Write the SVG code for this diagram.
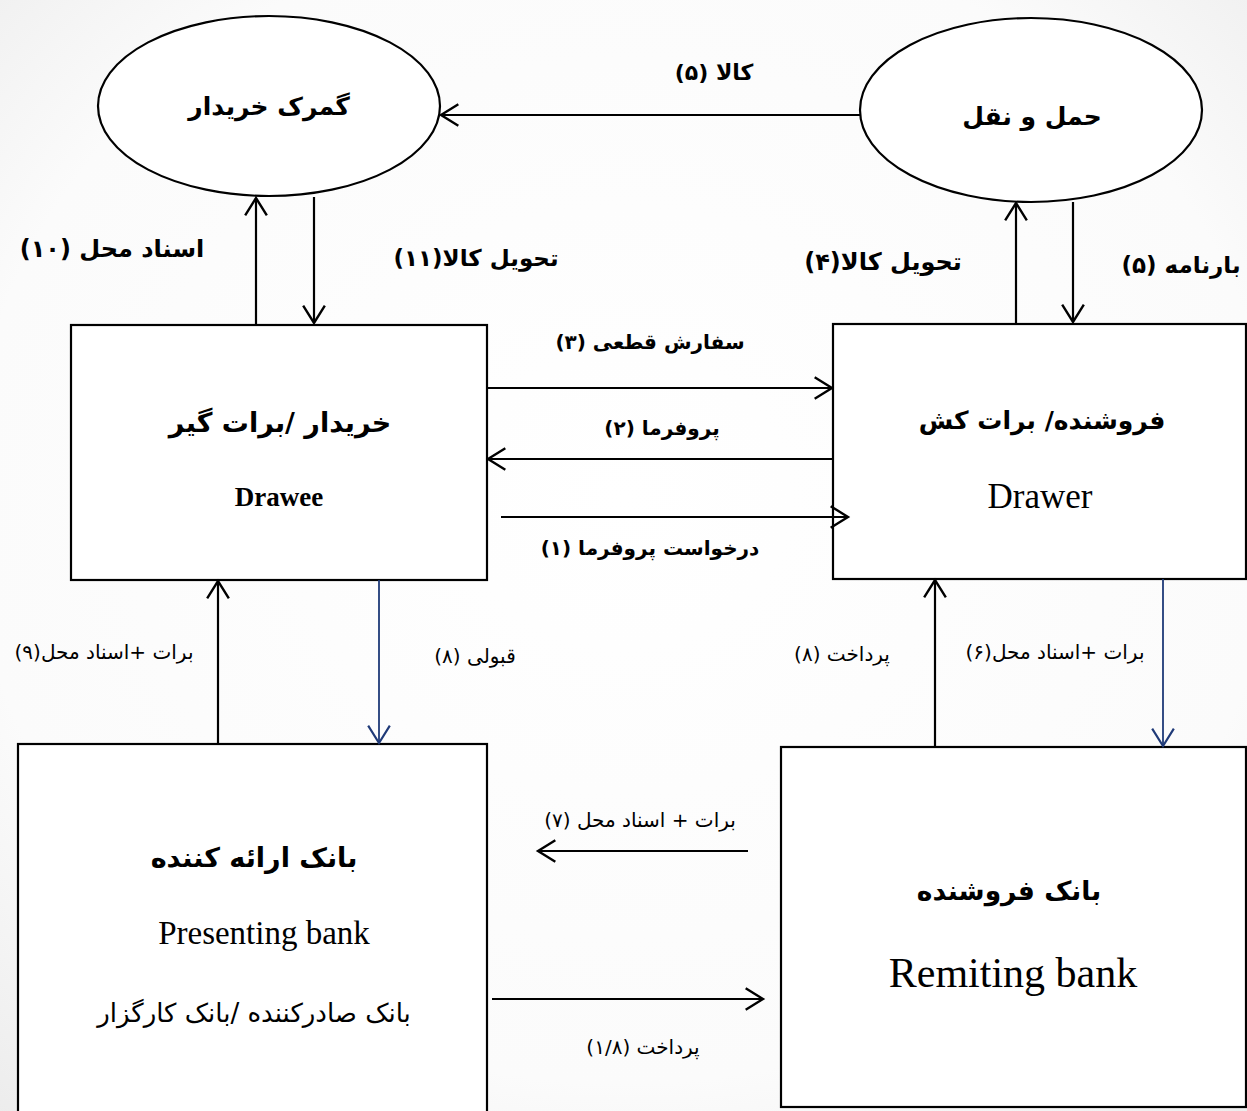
<svg xmlns="http://www.w3.org/2000/svg" width="1247" height="1111" viewBox="0 0 1247 1111">
<defs>
<radialGradient id="bg" cx="0.5" cy="0.45" r="0.75">
<stop offset="0" stop-color="#ffffff"/>
<stop offset="0.7" stop-color="#fbfbfb"/>
<stop offset="1" stop-color="#ececec"/>
</radialGradient>
<marker id="ah" markerUnits="userSpaceOnUse" markerWidth="24" markerHeight="26" viewBox="-18 -12 20 24" refX="0" refY="0" orient="auto">
<path d="M-16,-10 L0,0 L-16,10" fill="none" stroke="#000" stroke-width="2.2"/>
</marker>
<marker id="ahb" markerUnits="userSpaceOnUse" markerWidth="24" markerHeight="26" viewBox="-18 -12 20 24" refX="0" refY="0" orient="auto">
<path d="M-16,-10 L0,0 L-16,10" fill="none" stroke="#1f3a78" stroke-width="2"/>
</marker>
</defs>
<style>
.shape{fill:#ffffff;stroke:#000;stroke-width:2.2}
.c{fill:none;stroke:#000;stroke-width:2.2;marker-end:url(#ah)}
.cb{fill:none;stroke:#1f3a78;stroke-width:1.8;marker-end:url(#ahb)}
text{fill:#000;text-anchor:middle;dominant-baseline:central}
.fa{font-family:"DejaVu Sans","Noto Sans",sans-serif;direction:rtl}
.fb{font-weight:bold}
.en{font-family:"Liberation Serif","Times New Roman",serif}
.lb{font-size:22px}
.ls{font-size:20px}
</style>
<rect x="0" y="0" width="1247" height="1111" fill="url(#bg)"/>

<g id="customs">
<ellipse class="shape" cx="269" cy="106" rx="171" ry="90"/>
<text class="fa fb" x="269" y="106" font-size="25">گمرک خریدار</text>
</g>
<g id="transport">
<ellipse class="shape" cx="1031" cy="110" rx="171" ry="92"/>
<text class="fa fb" x="1032" y="116" font-size="25">حمل و نقل</text>
</g>
<g id="drawee">
<rect class="shape" x="71" y="325" width="416" height="255"/>
<text class="fa fb" x="280" y="422" font-size="27">خریدار /برات گیر</text>
<text class="en fb" x="279" y="497" font-size="27">Drawee</text>
</g>
<g id="drawer">
<rect class="shape" x="833" y="324" width="413" height="255"/>
<text class="fa fb" x="1042" y="420" font-size="25">فروشنده/ برات کش</text>
<text class="en" x="1040" y="496" font-size="35">Drawer</text>
</g>
<g id="presenting-bank">
<rect class="shape" x="18" y="744" width="469" height="390"/>
<text class="fa fb" x="254" y="857" font-size="27">بانک ارائه کننده</text>
<text class="en" x="264" y="933" font-size="33">Presenting bank</text>
<text class="fa" x="254" y="1013" font-size="26">بانک صادرکننده /بانک کارگزار</text>
</g>
<g id="remitting-bank">
<rect class="shape" x="781" y="747" width="465" height="360"/>
<text class="fa fb" x="1009" y="890" font-size="26.5">بانک فروشنده</text>
<text class="en" x="1013" y="973" font-size="42">Remiting bank</text>
</g>

<g id="connectors">
<line class="c" x1="860" y1="115" x2="441" y2="115"/>
<line class="c" x1="256" y1="325" x2="256" y2="198"/>
<line class="c" x1="314" y1="197" x2="314" y2="323"/>
<line class="c" x1="1016" y1="324" x2="1016" y2="203"/>
<line class="c" x1="1073" y1="202" x2="1073" y2="322"/>
<line class="c" x1="487" y1="388" x2="832" y2="388"/>
<line class="c" x1="832" y1="459" x2="488" y2="459"/>
<line class="c" x1="501" y1="517" x2="848" y2="517"/>
<line class="c" x1="218" y1="744" x2="218" y2="581"/>
<line class="cb" x1="379" y1="580" x2="379" y2="743"/>
<line class="c" x1="935" y1="747" x2="935" y2="580"/>
<line class="cb" x1="1163" y1="579" x2="1163" y2="746"/>
<line class="c" x1="748" y1="851" x2="538" y2="851"/>
<line class="c" x1="492" y1="999" x2="763" y2="999"/>

<text class="fa fb lb" x="714" y="72">کالا (۵)</text>
<text class="fa fb" x="112" y="249" font-size="24">اسناد محل (۱۰)</text>
<text class="fa fb" x="476" y="258" font-size="23">تحویل کالا(۱۱)</text>
<text class="fa fb" x="883" y="262" font-size="24">تحویل کالا(۴)</text>
<text class="fa fb" x="1181" y="265" font-size="23">بارنامه (۵)</text>
<text class="fa fb" x="650" y="342" font-size="20">سفارش قطعی (۳)</text>
<text class="fa fb" x="662" y="428" font-size="20">پروفرما (۲)</text>
<text class="fa fb" x="650" y="548" font-size="20">درخواست پروفرما (۱)</text>
<text class="fa ls" x="104" y="652">برات +اسناد محل(۹)</text>
<text class="fa ls" x="475" y="656">قبولی (۸)</text>
<text class="fa ls" x="842" y="654">پرداخت (۸)</text>
<text class="fa ls" x="1055" y="652">برات +اسناد محل(۶)</text>
<text class="fa ls" x="640" y="820">برات + اسناد محل (۷)</text>
<text class="fa ls" x="643" y="1047">پرداخت (۱/۸)</text>
</g>
</svg>
